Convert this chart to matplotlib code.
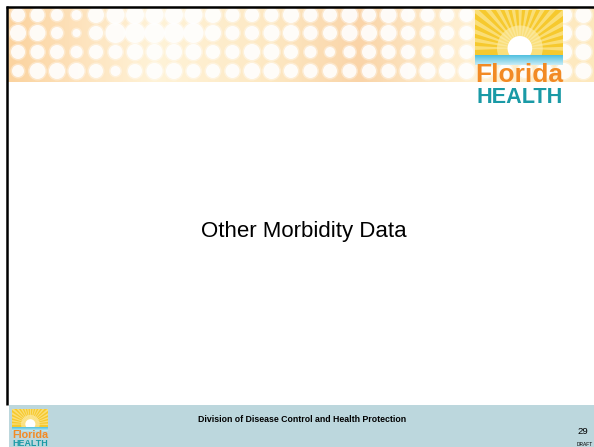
import numpy as np
import matplotlib.pyplot as plt
from matplotlib.patches import Rectangle, Circle, Wedge
from matplotlib.colors import LinearSegmentedColormap

W, H = 594, 447

title = "Other Morbidity Data"
footer = "Division of Disease Control and Health Protection"
page_no = "29"

# banner dot radii (px), one list per row
dot_rows = [
    [7, 7, 6, 5, 8, 9, 9, 9, 9, 9, 8, 7, 7, 7, 8, 7, 7, 8, 7, 8, 7, 7, 7, 7, 7, 7, 7, 8, 8, 8],
    [8, 8, 6, 4, 7, 10, 10, 10, 10, 10, 8, 7, 7, 8, 8, 7, 7, 8, 8, 8, 7, 7, 7, 7, 7, 7, 7, 8, 8, 8],
    [7, 7, 7, 6, 7, 7, 8, 8, 8, 8, 7, 7, 8, 8, 7, 6, 5, 6, 7, 7, 7, 6, 7, 7, 7, 7, 7, 8, 8, 8],
    [6, 8, 8, 8, 7, 5, 7, 8, 8, 7, 7, 7, 8, 8, 7, 7, 7, 7, 7, 7, 8, 8, 8, 8, 7, 7, 7, 8, 8, 8],
]
dot_y = [15, 33, 52, 71]

fig = plt.figure(figsize=(5.94, 4.47), dpi=100)
ax = fig.add_axes([0, 0, 1, 1])
ax.set_xlim(0, W)
ax.set_ylim(H, 0)
ax.axis('off')
renderer = fig.canvas.get_renderer()

# banner gradient
stops = [0, 0.1, 0.25, 0.45, 0.6, 0.72, 0.8, 1]
cols = ['#fbd39f', '#fde0b8', '#fff3d8', '#fde8c2', '#fad4a8', '#fde8c6', '#fff1d4', '#fde8bc']
cmap = LinearSegmentedColormap.from_list('banner', list(zip(stops, cols)))
grad = np.linspace(0, 1, 300).reshape(1, -1)
ax.imshow(grad, cmap=cmap, extent=[8, W, 82, 8], aspect='auto', zorder=1)

for y, row in zip(dot_y, dot_rows):
    for i, r in enumerate(row):
        ax.add_patch(Circle((18 + 19.5 * i, y), r + 1.5, color='white', alpha=0.35, lw=0, zorder=2))
        ax.add_patch(Circle((18 + 19.5 * i, y), r, color='white', alpha=0.85, lw=0, zorder=2))

# slide border
ax.plot([6, W], [6.5, 6.5], color='black', lw=1.8, zorder=5, solid_capstyle='butt')
ax.plot([7.2, 7.2], [6, 405], color='black', lw=1.8, zorder=5, solid_capstyle='butt')


def fit_text(s, x0, x1, y_base, color):
    # real text, font size scaled so the word fills x0..x1
    t = ax.text((x0 + x1) / 2, y_base, s, color=color, fontsize=10, fontweight='bold',
                family=['Liberation Sans Narrow', 'Liberation Sans'],
                ha='center', va='baseline', zorder=8)
    w = t.get_window_extent(renderer).width
    t.set_fontsize(10 * (x1 - x0) / w)


def logo(x0, y0, w, h):
    sun_h = h * 0.47
    ax.add_patch(Rectangle((x0, y0), w, sun_h, color='#f6c92e', lw=0, zorder=6))
    cx, cy = x0 + w * 0.51, y0 + sun_h * 0.85
    clip = Rectangle((x0, y0), w, sun_h, transform=ax.transData)
    for a in range(180, 362, 10):
        wd = Wedge((cx, cy), w, a - 2, a + 3, color='#fce48a', alpha=0.8, lw=0, zorder=6)
        ax.add_patch(wd)
        wd.set_clip_path(clip)
    glow = Circle((cx, cy), w * 0.26, color='#fdeeb0', alpha=0.6, lw=0, zorder=6)
    ax.add_patch(glow)
    glow.set_clip_path(clip)
    sun = Circle((cx, cy), w * 0.14, color='white', lw=0, zorder=7)
    ax.add_patch(sun)
    sun.set_clip_path(clip)
    band = LinearSegmentedColormap.from_list('band', ['#4fc0e0', '#c9ecf5'])
    ax.imshow(np.linspace(0, 1, 50).reshape(-1, 1), cmap=band, aspect='auto', zorder=6,
              extent=[x0, x0 + w, y0 + sun_h + h * 0.1, y0 + sun_h])
    fit_text('Florida', x0, x0 + w, y0 + h * 0.75, '#f28a24')
    fit_text('HEALTH', x0 + w * 0.02, x0 + w * 0.99, y0 + h * 0.97, '#1a9aa6')


logo(475, 10, 88, 96)

# title
ax.text(304, 231, title, fontsize=16, ha='center', va='center', family='Liberation Sans', zorder=8)

# footer bar
ax.add_patch(Rectangle((9, 405), W - 9, H - 405, color='#bcd7dd', lw=0, zorder=3))
logo(12, 409, 36, 38)
ax.text(302, 420, footer, fontsize=6.3, fontweight='bold', ha='center', va='center',
        family='Liberation Sans', zorder=8)
ax.text(583, 432, page_no, fontsize=6.8, ha='center', va='center', family='Liberation Sans', zorder=8)
ax.text(585, 444.5, 'DRAFT', fontsize=3.5, ha='center', va='center', family='Liberation Sans', zorder=8)

fig.savefig('out.png', dpi=100)
